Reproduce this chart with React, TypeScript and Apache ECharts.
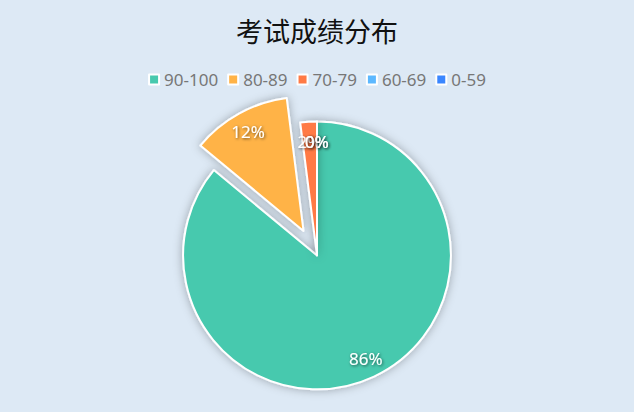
import React, { useEffect, useRef } from "react";
import * as echarts from "echarts";

const titleText = "考试成绩分布";
const gradeRanges = ["90-100", "80-89", "70-79", "60-69", "0-59"];
const studentCounts = [43, 6, 1, 0, 0];
const sliceColors = ["#47c9ae", "#ffb347", "#ff7a45", "#5cb8ff", "#3a86ff"];
const selectedRange = "80-89";

const App = () => {
  const chartRef = useRef<HTMLDivElement>(null);

  useEffect(() => {
    document.body.style.margin = "0";
    document.body.style.background = "#dde9f5";
    if (!chartRef.current) return undefined;
    const chart = echarts.init(chartRef.current, undefined, { renderer: "svg" });

    const pieData = gradeRanges.map((name, i) => ({
      name,
      value: studentCounts[i],
      selected: name === selectedRange,
    }));

    const options: echarts.EChartsOption = {
      animation: false,
      backgroundColor: "#dde9f5",
      color: sliceColors,
      title: {
        text: titleText,
        left: "center",
        top: 12,
        textStyle: {
          fontSize: 27,
          fontWeight: "normal",
          color: "#111",
          fontFamily: "Noto Sans CJK SC",
        },
      },
      legend: {
        data: gradeRanges,
        top: 66,
        left: "center",
        icon: "rect",
        itemWidth: 10,
        itemHeight: 10,
        itemGap: 9,
        textStyle: {
          fontSize: 17,
          color: "#777",
          fontFamily: "Noto Sans",
        },
      },
      series: [
        {
          type: "pie",
          center: ["50%", "62%"],
          radius: "65%",
          selectedMode: "single",
          selectedOffset: 28,
          itemStyle: {
            borderColor: "#fff",
            borderWidth: 2,
            shadowBlur: 10,
            shadowColor: "rgba(0,0,0,0.3)",
          },
          label: { show: false },
          labelLine: { show: false },
          emphasis: { disabled: true },
          data: pieData,
        },
        {
          // transparent ring that only carries the percentage labels
          type: "pie",
          center: ["50%", "62%"],
          radius: ["43%", "65%"],
          selectedMode: "single",
          selectedOffset: 28,
          minAngle: 0.1,
          minShowLabelAngle: 0,
          avoidLabelOverlap: false,
          labelLayout: { hideOverlap: false },
          silent: true,
          itemStyle: { color: "rgba(0,0,0,0)", borderWidth: 0 },
          label: {
            show: true,
            position: "inside",
            formatter: "{d}%",
            color: "#fff",
            fontSize: 17,
            fontFamily: "Noto Sans",
            textShadowColor: "rgba(0,0,0,0.6)",
            textShadowBlur: 3,
            textShadowOffsetX: 1,
            textShadowOffsetY: 1,
          },
          labelLine: { show: false },
          emphasis: { disabled: true },
          data: pieData,
        },
      ],
    };
    chart.setOption(options);
    return () => {
      chart.dispose();
    };
  }, []);

  return <div ref={chartRef} style={{ width: "634px", height: "412px" }} />;
};

export default App;
